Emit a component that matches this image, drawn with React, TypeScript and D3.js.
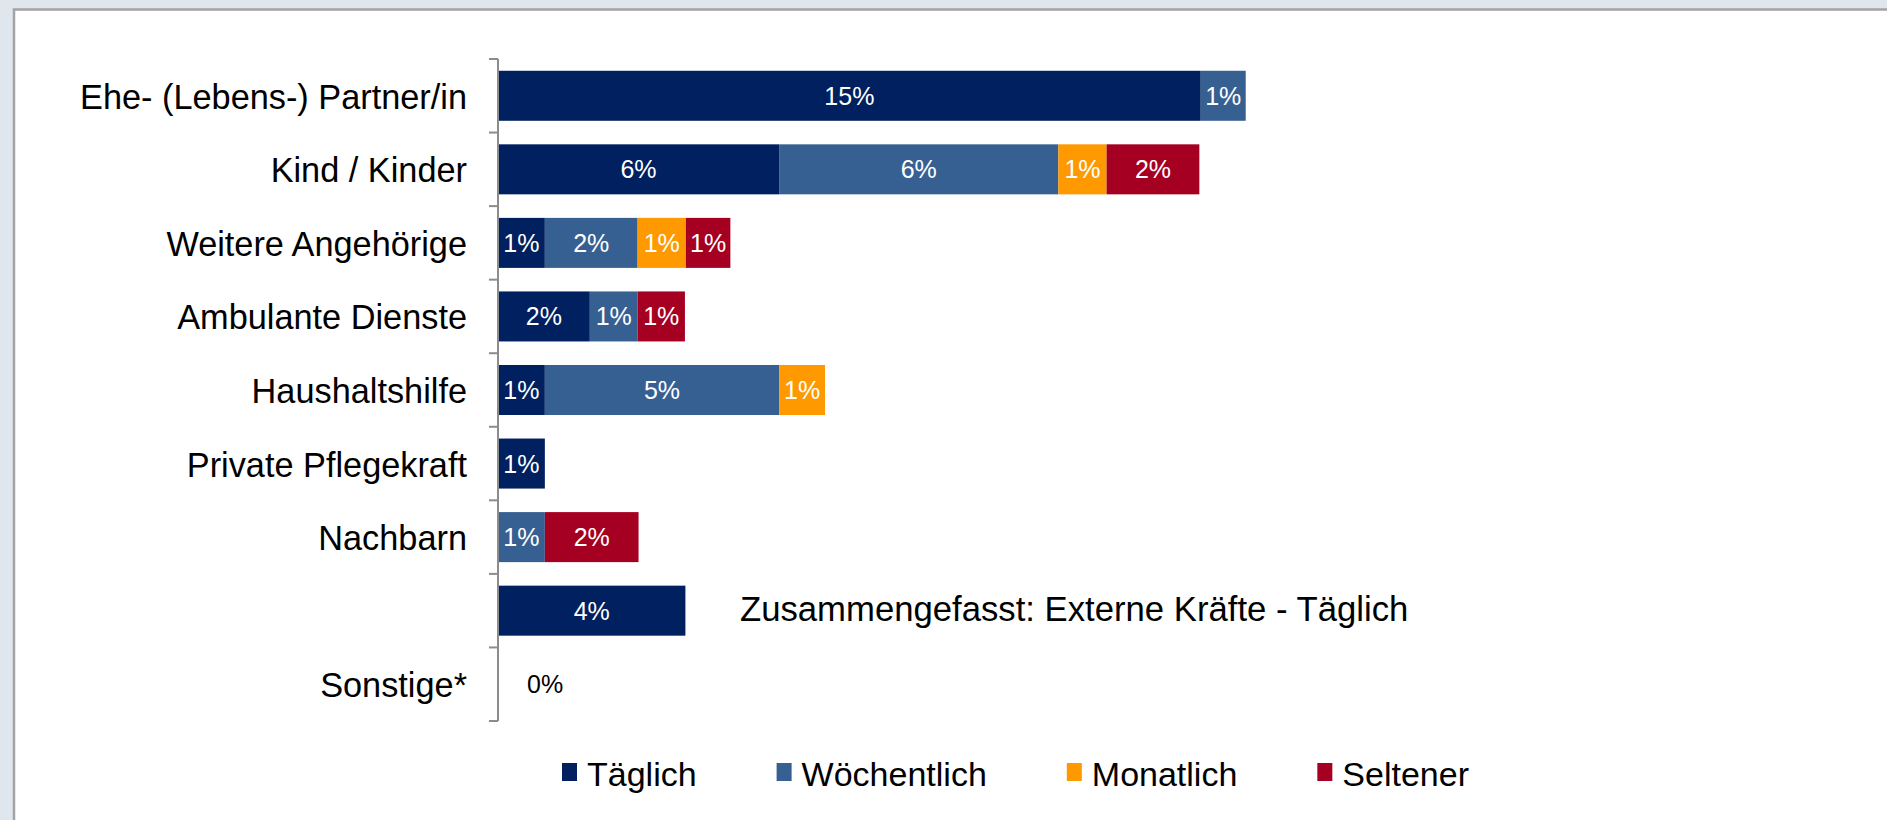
import React, { useEffect, useRef } from "react";
import * as d3 from "d3";

const categories = [
  "Ehe- (Lebens-) Partner/in",
  "Kind / Kinder",
  "Weitere Angehörige",
  "Ambulante Dienste",
  "Haushaltshilfe",
  "Private Pflegekraft",
  "Nachbarn",
  "",
  "Sonstige*",
];

const seriesNames = ["Täglich", "Wöchentlich", "Monatlich", "Seltener"];
const seriesColors = ["#002060", "#376092", "#ff9900", "#a50021"];

// values in percent
const taeglich = [15.0, 6.0, 1.0, 1.96, 1.0, 1.0, 0, 4.0, 0];
const woechentlich = [0.96, 5.96, 1.98, 1.02, 5.0, 0, 1.0, 0, 0];
const monatlich = [0, 1.03, 1.03, 0, 0.98, 0, 0, 0, 0];
const seltener = [0, 1.98, 0.95, 1.01, 0, 0, 2.0, 0, 0];

const summaryNote = "Zusammengefasst: Externe Kräfte - Täglich";
const summaryRow = 7;

const W = 1887;
const H = 820;
const FONT = "'Liberation Sans', Arial, Helvetica, sans-serif";

const App = () => {
  const ref = useRef<SVGSVGElement | null>(null);

  useEffect(() => {
    if (!ref.current) return;
    const svg = d3.select(ref.current);
    svg.selectAll("*").remove();

    // page background and chart frame
    svg.append("rect").attr("width", W).attr("height", H).attr("fill", "#dfe6ee");
    svg
      .append("rect")
      .attr("x", 14)
      .attr("y", 9.5)
      .attr("width", W + 20)
      .attr("height", H + 20)
      .attr("fill", "#ffffff")
      .attr("stroke", "#a3a3a3")
      .attr("stroke-width", 2.5);

    const x = d3.scaleLinear().domain([0, 20]).range([498, 498 + 20 * 46.85]);
    const y = d3
      .scaleBand<string>()
      .domain(categories.map((c, i) => String(i)))
      .range([59, 721])
      .paddingInner(0.32)
      .paddingOuter(0.16);

    const rows = categories.map((c, i) => ({
      key: String(i),
      label: c,
      values: [taeglich[i], woechentlich[i], monatlich[i], seltener[i]],
    }));

    const stack = d3
      .stack<any>()
      .keys(seriesNames)
      .value((d, k) => d.values[seriesNames.indexOf(k)]);
    const stacked = stack(rows);

    const g = svg.append("g");

    // bars
    stacked.forEach((layer, si) => {
      g.append("g")
        .attr("fill", seriesColors[si])
        .selectAll("rect")
        .data(layer.filter((d) => d[1] - d[0] > 0))
        .join("rect")
        .attr("x", (d) => x(d[0]))
        .attr("y", (d) => y(d.data.key)!)
        .attr("width", (d) => x(d[1]) - x(d[0]))
        .attr("height", y.bandwidth());
    });

    // data labels
    stacked.forEach((layer) => {
      g.append("g")
        .selectAll("text")
        .data(layer.filter((d) => d[1] - d[0] > 0))
        .join("text")
        .attr("x", (d) => (x(d[0]) + x(d[1])) / 2)
        .attr("y", (d) => y(d.data.key)! + y.bandwidth() / 2 + 9)
        .attr("text-anchor", "middle")
        .attr("fill", "#ffffff")
        .style("font-family", FONT)
        .style("font-size", "25px")
        .text((d) => `${Math.round(d[1] - d[0])}%`);
    });

    // zero total label
    rows
      .filter((r) => d3.sum(r.values) === 0)
      .forEach((r) => {
        g.append("text")
          .attr("x", x(0) + 29)
          .attr("y", y(r.key)! + y.bandwidth() / 2 + 9)
          .attr("fill", "#000000")
          .style("font-family", FONT)
          .style("font-size", "25px")
          .text("0%");
      });

    // category axis
    const axisG = svg.append("g");
    const step = y.step();
    const y0 = y.range()[0];
    axisG
      .append("line")
      .attr("x1", x(0))
      .attr("x2", x(0))
      .attr("y1", y0)
      .attr("y2", y0 + step * categories.length)
      .attr("stroke", "#8c8c8c")
      .attr("stroke-width", 2);
    axisG
      .selectAll("line.tick")
      .data(d3.range(categories.length + 1))
      .join("line")
      .attr("class", "tick")
      .attr("x1", x(0) - 9)
      .attr("x2", x(0))
      .attr("y1", (i) => y0 + i * step)
      .attr("y2", (i) => y0 + i * step)
      .attr("stroke", "#8c8c8c")
      .attr("stroke-width", 2);
    axisG
      .selectAll("text")
      .data(rows)
      .join("text")
      .attr("x", 467)
      .attr("y", (d) => y(d.key)! + y.bandwidth() / 2 + 13)
      .attr("text-anchor", "end")
      .attr("fill", "#000000")
      .style("font-family", FONT)
      .style("font-size", "34.3px")
      .text((d) => d.label);

    // note next to the summary bar
    svg
      .append("text")
      .attr("x", 740)
      .attr("y", y(String(summaryRow))! + y.bandwidth() / 2 + 10)
      .attr("fill", "#000000")
      .style("font-family", FONT)
      .style("font-size", "34.7px")
      .text(summaryNote);

    // legend
    const legend = svg.append("g");
    let lx = 562;
    seriesNames.forEach((name, i) => {
      legend
        .append("rect")
        .attr("x", lx)
        .attr("y", 763)
        .attr("width", 15)
        .attr("height", 18)
        .attr("fill", seriesColors[i]);
      const t = legend
        .append("text")
        .attr("x", lx + 25)
        .attr("y", 786)
        .attr("fill", "#000000")
        .style("font-family", FONT)
        .style("font-size", "34px")
        .text(name);
      const len = (t.node() as SVGTextElement).getComputedTextLength();
      lx += 25 + len + 80;
    });
  }, []);

  return (
    <div style={{ position: "absolute", left: 0, top: 0 }}>
      <svg ref={ref} width={W} height={H} style={{ display: "block" }} />
    </div>
  );
};

export default App;
